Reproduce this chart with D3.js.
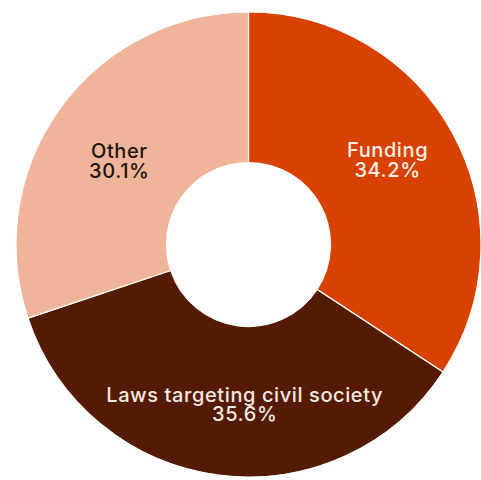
<!DOCTYPE html>
<html>
<head>
<meta charset="utf-8">
<script src="https://cdn.jsdelivr.net/npm/d3@7"></script>
<style>
  html, body { margin: 0; padding: 0; background: #ffffff; }
  svg { display: block; }
  text { font-family: Inter, "Noto Sans", sans-serif; font-weight: 500; }
</style>
</head>
<body>
<div id="chart"></div>
<script>
// Share of cases by main issue (percent)
const categories = ["Funding", "Laws targeting civil society", "Other"];
const values = [34.2, 35.6, 30.1];
const colors = ["#d84100", "#551b00", "#efb49a"];
const labelColors = ["#fbeee6", "#f5e9e2", "#1c1410"];

const width = 481, height = 480;
const cx = 248.5, cy = 244.5;
const outerR = 232.5, innerR = 82;
const labelR = 158;
// per-label nudges [dx, dy] applied to the first-line baseline
const nudges = [[0, -12], [16.5, 0.5], [-1, 6]];

const svg = d3.select("#chart").append("svg")
  .attr("width", width).attr("height", height);

const g = svg.append("g").attr("transform", `translate(${cx},${cy})`);

const data = categories.map((c, i) => ({ name: c, value: values[i], color: colors[i], text: labelColors[i] }));

const pie = d3.pie().value(d => d.value).sort(null);
const arcs = pie(data);

const arc = d3.arc().innerRadius(innerR).outerRadius(outerR);
const labelArc = d3.arc().innerRadius(labelR).outerRadius(labelR);

g.selectAll("path.slice").data(arcs).join("path")
  .attr("class", "slice")
  .attr("d", arc)
  .attr("fill", d => d.data.color)
  .attr("stroke", "#ffffff")
  .attr("stroke-width", 1.2);

const fmt = d3.format(".1f");

const labels = g.selectAll("text.lbl").data(arcs).join("text")
  .attr("class", "lbl")
  .attr("text-anchor", "middle")
  .attr("font-size", 20)
  .attr("letter-spacing", 0.6)
  .attr("fill", d => d.data.text)
  .attr("transform", (d, i) => {
    const [x, y] = labelArc.centroid(d);
    return `translate(${x + nudges[i][0]},${y + nudges[i][1]})`;
  });

labels.append("tspan").attr("x", 0).attr("y", 0).text(d => d.data.name);
labels.append("tspan").attr("x", 0).attr("y", 19.5).text(d => fmt(d.data.value) + "%");
</script>
</body>
</html>
